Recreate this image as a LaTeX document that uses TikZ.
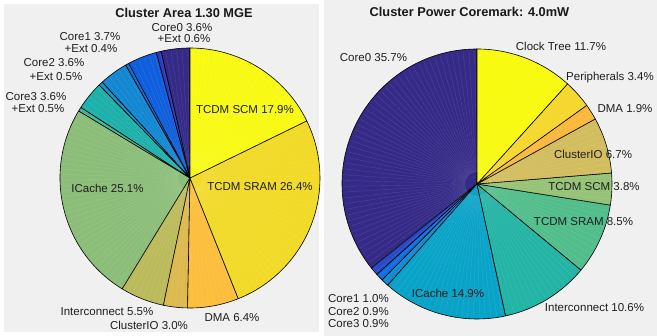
\documentclass[tikz,border=0pt]{standalone}
\usepackage{fontspec}
\setmainfont{Liberation Sans}
\definecolor{panelgray}{HTML}{F0F0F0}
% area pie
\definecolor{aCore0}{HTML}{352A87}
\definecolor{aExt0}{HTML}{2A3CBE}
\definecolor{aCore1}{HTML}{0F5FDC}
\definecolor{aExt1}{HTML}{1070D8}
\definecolor{aCore2}{HTML}{1487D2}
\definecolor{aExt2}{HTML}{0A96C8}
\definecolor{aCore3}{HTML}{1EB0AA}
\definecolor{aExt3}{HTML}{3CB996}
\definecolor{aICache}{HTML}{8CBE7A}
\definecolor{aInter}{HTML}{BCBB5C}
\definecolor{aCluster}{HTML}{DCBA50}
\definecolor{aDMA}{HTML}{FCBE3C}
\definecolor{aSRAM}{HTML}{F2DA28}
\definecolor{aSCM}{HTML}{F9FA14}
% power pie
\definecolor{pCore0}{HTML}{352A87}
\definecolor{pCore1}{HTML}{2A4BC8}
\definecolor{pCore2}{HTML}{0F6EE1}
\definecolor{pCore3}{HTML}{148CD2}
\definecolor{pICache}{HTML}{0AA3C8}
\definecolor{pInter}{HTML}{23B4A5}
\definecolor{pSRAM}{HTML}{52BE8C}
\definecolor{pSCM}{HTML}{96C378}
\definecolor{pCluster}{HTML}{D2BE5F}
\definecolor{pDMA}{HTML}{FAB93C}
\definecolor{pPeri}{HTML}{F5D72D}
\definecolor{pClock}{HTML}{F8FA0F}

\begin{document}
\begin{tikzpicture}[
x=1pt, y=1pt,
panel/.style={
  fill=panelgray,
  draw=none
  },
slice/.style={
  draw=black,
  line width=0.6pt,
  line join=round
  },
glint/.style={
  white,
  opacity=0.14,
  line width=0.3pt
  },
lbl/.style={
  font=\fontsize{11.5}{13}\selectfont,
  inner sep=0pt,
  anchor=base,
  text=black!88
  },
ttl/.style={
  font=\fontsize{12.8}{15}\selectfont\bfseries,
  inner sep=0pt,
  anchor=base,
  text=black!90
  }
]
\useasboundingbox (0,0) rectangle (657,336);
\fill[white] (0,0) rectangle (657,336);
\fill[panel] (4,4) rectangle (319,332);
\fill[panel] (324,0) rectangle (657,336);

% cluster area
\coordinate (cA) at (190,158);
\foreach \a/\b/\c in {90/102.86/aCore0,105/118.21/aCore1,119.64/132.5/aCore2,
  134.29/147.14/aCore3,148.93/238.57/aICache,238.57/258.21/aInter,
  258.21/268.93/aCluster,268.93/291.79/aDMA,291.79/386.07/aSRAM,386.07/450/aSCM}
  \draw[slice, fill=\c] (cA) -- ++(\a:130) arc[start angle=\a, end angle=\b, radius=130] -- cycle;
\foreach \a/\b/\c in {102.86/105/aExt0,118.21/119.64/aExt1,132.5/134.29/aExt2,147.14/148.93/aExt3}
  \draw[slice, fill=\c, shift={({(\a+\b)/2}:13)}] (cA) -- ++(\a:130) arc[start angle=\a, end angle=\b, radius=130] -- cycle;
\foreach \t in {1,3.5,...,358.5}
  \draw[glint] (cA) ++(\t:12) -- ++(\t:116);

\node[ttl] (areaTitle) at (184,318.5) {Cluster Area 1.30 MGE};
\node[lbl] (core0A) at (182,304) {Core0 3.6\%};
\node[lbl] (ext0A) at (184,293) {+Ext 0.6\%};
\node[lbl] (core1A) at (90,295) {Core1 3.7\%};
\node[lbl] (ext1A) at (91,283) {+Ext 0.4\%};
\node[lbl] (core2A) at (54,269) {Core2 3.6\%};
\node[lbl] (ext2A) at (56,255) {+Ext 0.5\%};
\node[lbl] (core3A) at (36,235.5) {Core3 3.6\%};
\node[lbl] (ext3A) at (38,223.5) {+Ext 0.5\%};
\node[lbl] (scmA) at (245,222) {TCDM SCM 17.9\%};
\node[lbl] (sramA) at (260,145) {TCDM SRAM 26.4\%};
\node[lbl] (icacheA) at (107.5,143) {ICache 25.1\%};
\node[lbl] (interA) at (107,20) {Interconnect 5.5\%};
\node[lbl] (clusterA) at (149,6) {ClusterIO 3.0\%};
\node[lbl] (dmaA) at (232,14) {DMA 6.4\%};

% cluster power
\coordinate (cP) at (477,152);
\foreach \a/\b/\c in {90/218.52/pCore0,218.52/222.12/pCore1,222.12/225.36/pCore2,
  225.36/228.6/pCore3,228.6/282.24/pICache,282.24/320.4/pInter,320.4/351/pSRAM,
  351/364.68/pSCM,364.68/388.8/pCluster,388.8/395.64/pDMA,395.64/407.88/pPeri,407.88/450/pClock}
  \draw[slice, fill=\c] (cP) -- ++(\a:135) arc[start angle=\a, end angle=\b, radius=135] -- cycle;
\foreach \t in {1,3.5,...,358.5}
  \draw[glint] (cP) ++(\t:12) -- ++(\t:121);

\node[ttl] (powerTitle) at (469.5,319.5) {Cluster Power Coremark: 4.0mW};
\node[lbl] (core0P) at (373.5,274) {Core0 35.7\%};
\node[lbl] (clockP) at (561,285) {Clock Tree 11.7\%};
\node[lbl] (periP) at (610,255) {Peripherals 3.4\%};
\node[lbl] (dmaP) at (625,223) {DMA 1.9\%};
\node[lbl] (clusterP) at (593,177) {ClusterIO 6.7\%};
\node[lbl] (scmP) at (594,145) {TCDM SCM 3.8\%};
\node[lbl] (sramP) at (583.5,110) {TCDM SRAM 8.5\%};
\node[lbl] (interP) at (594.5,24) {Interconnect 10.6\%};
\node[lbl] (icacheP) at (448,38) {ICache 14.9\%};
\node[lbl] (core1P) at (358.5,33) {Core1 1.0\%};
\node[lbl] (core2P) at (358.5,20) {Core2 0.9\%};
\node[lbl] (core3P) at (358.5,8) {Core3 0.9\%};

\end{tikzpicture}
\end{document}
